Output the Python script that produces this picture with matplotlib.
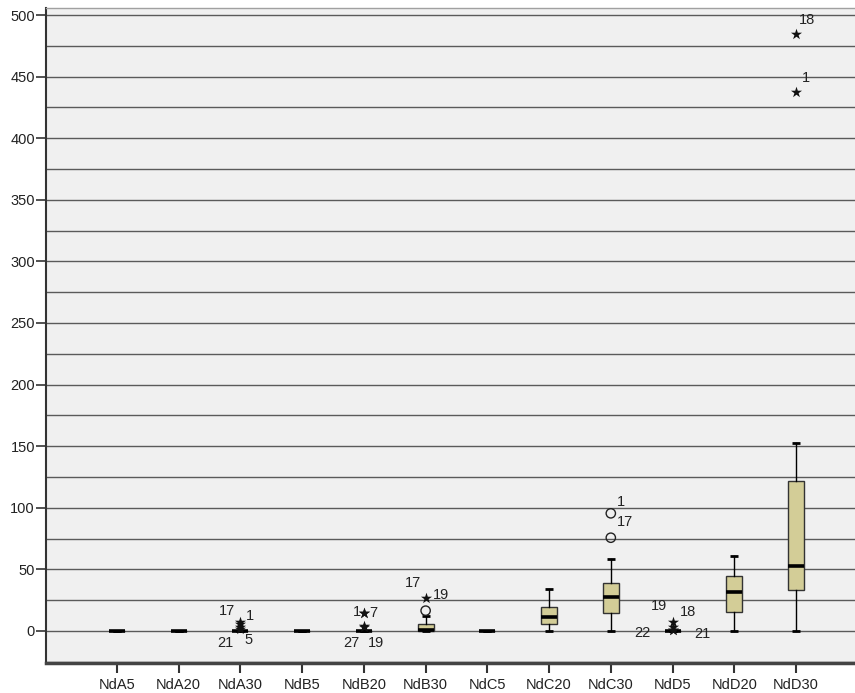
import matplotlib
matplotlib.use("Agg")
import matplotlib.pyplot as plt
from matplotlib.ticker import MultipleLocator

plt.rcParams['font.family'] = ['Liberation Sans', 'DejaVu Sans']

# Box statistics per group
categories = ['NdA5', 'NdA20', 'NdA30', 'NdB5', 'NdB20', 'NdB30',
              'NdC5', 'NdC20', 'NdC30', 'NdD5', 'NdD20', 'NdD30']
q1_vals = [0, 0, 0, 0, 0, 0, 0, 5.7, 14.9, 0, 15.2, 33.3]
median_vals = [0, 0, 0, 0, 0, 1, 0, 11.1, 27.9, 0, 31.4, 52.8]
q3_vals = [0, 0, 0, 0, 0, 6, 0, 19.7, 38.7, 0, 44.9, 122.0]
whisker_low = [0, 0, 0, 0, 0, 0, 0, 0, 0, 0, 0, 0]
whisker_high = [0, 0, 0, 0, 0, 12.4, 0, 33.8, 58.7, 0, 60.9, 152.4]

# Outliers (circles) and extremes (stars): group index, value, case label
outlier_group = [5, 8, 8]
outlier_value = [16.5, 95.5, 75.7]
outlier_label = ['17', '1', '17']

extreme_group = [2, 2, 2, 2, 4, 4, 4, 4, 5, 9, 9, 9, 9, 11, 11]
extreme_value = [6, 7, 3, 2, 14.3, 14.3, 4, 3, 27, 7.6, 3.5, 1, 1, 485, 437.7]
extreme_label = ['17', '1', '21', '5', '1', '7', '27', '19', '19',
                 '18', '19', '22', '21', '18', '1']

# Label offsets (pixels) for outlier and extreme case numbers
outlier_offset = [(-13, 28), (10, 11), (14, 16)]
extreme_offset = [(-13, 12.6), (9, 6), (-15, -16), (8, -11.5),
                  (-7, 1), (9, 0), (-13, -17), (12, -16),
                  (15, 3),
                  (15, 10), (-14, 20.7), (-30, -3.5), (30, -4),
                  (11, 13.5), (10, 13.7)]

fig = plt.figure(figsize=(8.55, 6.93), dpi=100)
ax = fig.add_axes([46 / 855, 30 / 693, 809 / 855, 655 / 693])
ax.set_facecolor('#F0F0F0')

positions = list(range(1, len(categories) + 1))
stats = []
for i, name in enumerate(categories):
    stats.append({
        'label': name,
        'med': median_vals[i],
        'q1': q1_vals[i],
        'q3': q3_vals[i],
        'whislo': whisker_low[i],
        'whishi': whisker_high[i],
        'fliers': [],
    })

ax.bxp(stats, positions=positions, widths=0.26, capwidths=0.13,
       showfliers=False, patch_artist=True,
       boxprops=dict(facecolor='#D3CD97', edgecolor='#333333', linewidth=1.0),
       medianprops=dict(color='black', linewidth=2.6, solid_capstyle='butt'),
       whiskerprops=dict(color='black', linewidth=1.0),
       capprops=dict(color='black', linewidth=2.0, solid_capstyle='butt'))

ox = [positions[g] for g in outlier_group]
ax.scatter(ox, outlier_value, s=45, marker='o', facecolors='none',
           edgecolors='#222222', linewidths=1.0, zorder=5)
ex = [positions[g] for g in extreme_group]
ax.scatter(ex, extreme_value, s=70, marker='*', color='#111111',
           linewidths=0, zorder=5)

for x, y, lab, off in zip(ox, outlier_value, outlier_label, outlier_offset):
    ax.annotate(lab, (x, y), xytext=off, textcoords='offset pixels',
                ha='center', va='center', fontsize=10.5, color='#222222')
for x, y, lab, off in zip(ex, extreme_value, extreme_label, extreme_offset):
    ax.annotate(lab, (x, y), xytext=off, textcoords='offset pixels',
                ha='center', va='center', fontsize=10.5, color='#222222')

ax.set_xlim(-0.15, 12.956)
ax.set_ylim(-26, 505.7)
ax.set_xticks(positions)
ax.set_xticklabels(categories)
ax.yaxis.set_major_locator(MultipleLocator(50))
ax.yaxis.set_minor_locator(MultipleLocator(25))
ax.set_yticks(range(0, 501, 50))

ax.set_axisbelow(True)
ax.grid(True, axis='y', which='both', color='#5A5A5A', linewidth=1.0)

ax.tick_params(axis='y', which='major', length=7, width=1.2, color='#333333',
               labelsize=10.5, pad=1, labelcolor='#222222')
ax.tick_params(axis='y', which='minor', length=0)
ax.tick_params(axis='x', length=7, width=1.5, color='#333333',
               labelsize=10.5, pad=4, labelcolor='#222222')

ax.spines['right'].set_visible(False)
ax.spines['top'].set_color('#A0A0A0')
ax.spines['top'].set_linewidth(1.0)
ax.spines['left'].set_color('#333333')
ax.spines['left'].set_linewidth(1.5)
ax.spines['bottom'].set_color('#444444')
ax.spines['bottom'].set_linewidth(2.5)

fig.savefig('out.png', dpi=100, facecolor='white')
